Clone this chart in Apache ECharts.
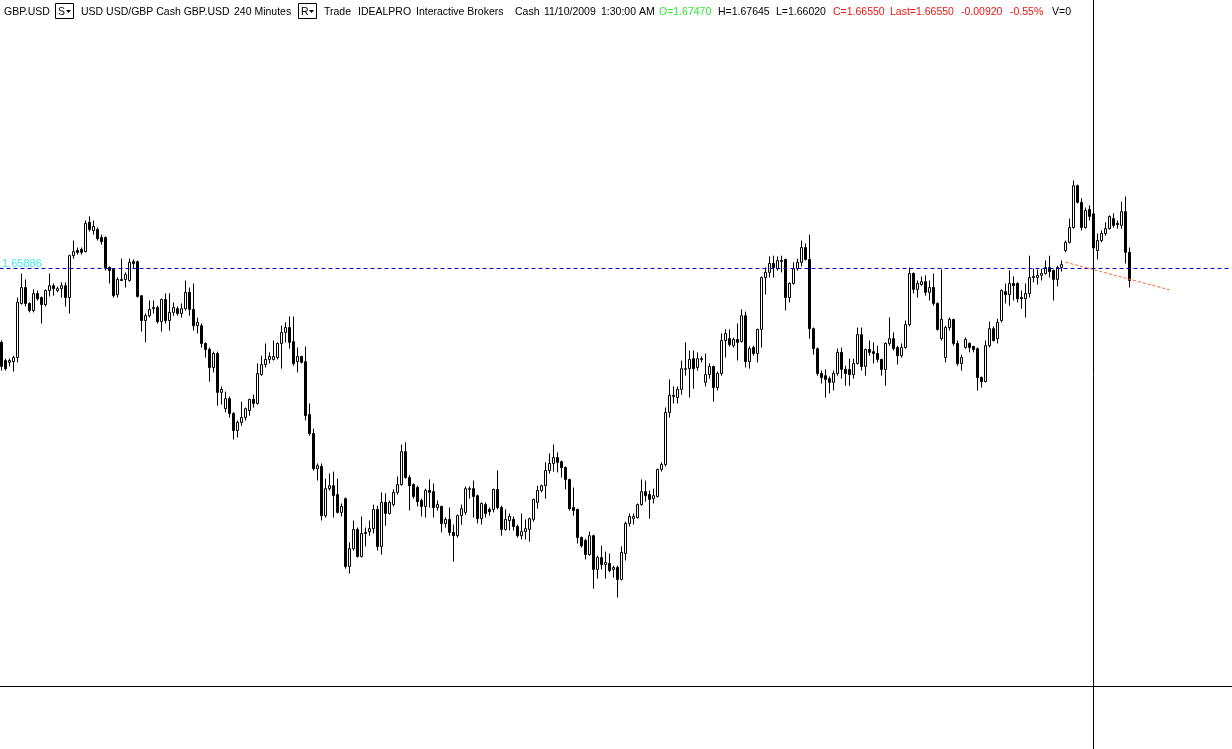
<!DOCTYPE html>
<html>
<head>
<meta charset="utf-8">
<script src="https://cdn.jsdelivr.net/npm/echarts/dist/echarts.min.js"></script>
<style>html,body{margin:0;padding:0;background:#fff;overflow:hidden}#chart{width:1232px;height:749px}</style>
</head>
<body>
<div id="chart"></div>
<script>
// GBP.USD 240-minute bars
const opens = [
1.6400,1.6351,1.6346,1.6348,1.6359,1.6505,1.6548,1.6505,1.6486,1.6532,
1.6521,1.6502,1.6540,1.6553,1.6540,1.6545,1.6553,1.6521,1.6634,1.6648,
1.6651,1.6645,1.6724,1.6702,1.6705,1.6683,1.6683,1.6602,1.6597,1.6529,
1.6567,1.6570,1.6567,1.6618,1.6618,1.6526,1.6459,1.6472,1.6491,1.6494,
1.6456,1.6516,1.6459,1.6481,1.6491,1.6478,1.6491,1.6535,1.6489,1.6445,
1.6445,1.6397,1.6381,1.6332,1.6370,1.6265,1.6221,1.6248,1.6208,1.6162,
1.6184,1.6197,1.6216,1.6246,1.6235,1.6313,1.6340,1.6354,1.6354,1.6359,
1.6397,1.6427,1.6440,1.6402,1.6348,1.6362,1.6348,1.6205,1.6154,1.6059,
1.6065,1.5932,1.6005,1.6013,1.5989,1.5941,1.5978,1.5795,1.5843,1.5895,
1.5822,1.5884,1.5889,1.5897,1.5949,1.5849,1.5968,1.5938,1.5962,1.5995,
1.6016,1.6105,1.6035,1.6016,1.6008,1.5973,1.5957,1.6000,1.5997,1.5954,
1.5957,1.5911,1.5922,1.5887,1.5878,1.5932,1.5941,1.6003,1.6005,1.5986,
1.5924,1.5962,1.5949,1.5949,1.6003,1.5954,1.5895,1.5919,1.5922,1.5903,
1.5878,1.5889,1.5895,1.5922,1.5968,1.6000,1.6013,1.6054,1.6073,1.6089,
1.6078,1.6062,1.6030,1.5954,1.5949,1.5873,1.5865,1.5827,1.5878,1.5787,
1.5819,1.5800,1.5803,1.5787,1.5792,1.5760,1.5830,1.5911,1.5924,1.5927,
1.5962,1.5997,1.5989,1.5978,1.5984,1.6057,1.6070,1.6211,1.6254,1.6251,
1.6273,1.6327,1.6329,1.6356,1.6332,1.6356,1.6292,1.6313,1.6335,1.6278,
1.6316,1.6405,1.6410,1.6391,1.6408,1.6402,1.6472,1.6348,1.6386,1.6370,
1.6435,1.6575,1.6589,1.6613,1.6599,1.6618,1.6624,1.6521,1.6559,1.6599,
1.6616,1.6656,1.6624,1.6437,1.6383,1.6316,1.6310,1.6302,1.6292,1.6316,
1.6373,1.6327,1.6327,1.6313,1.6343,1.6421,1.6335,1.6381,1.6375,1.6370,
1.6354,1.6327,1.6397,1.6410,1.6386,1.6364,1.6386,1.6448,1.6586,1.6543,
1.6556,1.6564,1.6535,1.6548,1.6505,1.6410,1.6359,1.6440,1.6462,1.6397,
1.6343,1.6386,1.6397,1.6389,1.6383,1.6305,1.6294,1.6391,1.6437,1.6410,
1.6459,1.6537,1.6529,1.6559,1.6559,1.6521,1.6518,1.6532,1.6575,1.6575,
1.6581,1.6586,1.6602,1.6594,1.6570,1.6602,1.6648,1.6670,1.6710,1.6823,
1.6778,1.6710,1.6759,1.6747,1.6648,1.6675,1.6694,1.6707,1.6734,1.6721,
1.6716,1.6753,1.6643
];
const closes = [
1.6335,1.6329,1.6351,1.6359,1.6508,1.6548,1.6505,1.6486,1.6532,1.6518,
1.6502,1.6540,1.6553,1.6545,1.6545,1.6553,1.6521,1.6634,1.6645,1.6643,
1.6643,1.6721,1.6705,1.6713,1.6680,1.6672,1.6602,1.6594,1.6526,1.6570,
1.6570,1.6583,1.6616,1.6613,1.6524,1.6459,1.6472,1.6489,1.6494,1.6456,
1.6516,1.6459,1.6481,1.6494,1.6478,1.6491,1.6535,1.6489,1.6445,1.6454,
1.6397,1.6381,1.6332,1.6370,1.6265,1.6273,1.6248,1.6208,1.6162,1.6184,
1.6197,1.6221,1.6246,1.6235,1.6316,1.6340,1.6354,1.6362,1.6362,1.6397,
1.6427,1.6440,1.6400,1.6343,1.6362,1.6346,1.6202,1.6154,1.6059,1.6067,
1.5932,1.6005,1.6013,1.5986,1.5941,1.5957,1.5795,1.5843,1.5895,1.5822,
1.5884,1.5887,1.5897,1.5949,1.5849,1.5968,1.5938,1.5968,1.5995,1.6016,
1.6105,1.6035,1.6013,1.5984,1.5970,1.5957,1.6000,1.5995,1.5954,1.5962,
1.5911,1.5922,1.5887,1.5878,1.5932,1.5951,1.6005,1.6005,1.5984,1.5924,
1.5965,1.5938,1.5943,1.6003,1.5954,1.5895,1.5922,1.5930,1.5903,1.5878,
1.5889,1.5897,1.5924,1.5976,1.6000,1.6013,1.6054,1.6073,1.6089,1.6076,
1.6062,1.6030,1.5951,1.5946,1.5873,1.5851,1.5827,1.5878,1.5787,1.5819,
1.5800,1.5806,1.5784,1.5792,1.5760,1.5833,1.5911,1.5930,1.5930,1.5962,
1.5997,1.5986,1.5976,1.5986,1.6057,1.6070,1.6211,1.6257,1.6257,1.6273,
1.6329,1.6329,1.6354,1.6329,1.6356,1.6354,1.6313,1.6335,1.6278,1.6316,
1.6405,1.6424,1.6394,1.6408,1.6400,1.6472,1.6348,1.6383,1.6370,1.6435,
1.6575,1.6589,1.6613,1.6602,1.6621,1.6621,1.6521,1.6559,1.6599,1.6616,
1.6656,1.6624,1.6437,1.6383,1.6316,1.6305,1.6300,1.6292,1.6316,1.6373,
1.6327,1.6316,1.6313,1.6343,1.6421,1.6335,1.6381,1.6373,1.6370,1.6354,
1.6327,1.6397,1.6410,1.6383,1.6364,1.6386,1.6448,1.6586,1.6543,1.6559,
1.6564,1.6535,1.6548,1.6505,1.6435,1.6462,1.6440,1.6462,1.6397,1.6343,
1.6359,1.6408,1.6386,1.6381,1.6305,1.6294,1.6391,1.6437,1.6405,1.6454,
1.6540,1.6529,1.6559,1.6553,1.6518,1.6518,1.6532,1.6575,1.6578,1.6581,
1.6586,1.6602,1.6591,1.6570,1.6602,1.6610,1.6670,1.6710,1.6823,1.6778,
1.6710,1.6756,1.6740,1.6655,1.6675,1.6694,1.6707,1.6740,1.6716,1.6718,
1.6753,1.6643,1.6567
];
const lows = [
1.6324,1.6324,1.6335,1.6321,1.6346,1.6502,1.6497,1.6481,1.6481,1.6513,
1.6451,1.6497,1.6524,1.6526,1.6535,1.6521,1.6497,1.6478,1.6626,1.6637,
1.6637,1.6643,1.6699,1.6691,1.6675,1.6664,1.6594,1.6559,1.6521,1.6521,
1.6567,1.6548,1.6564,1.6599,1.6521,1.6429,1.6400,1.6467,1.6478,1.6451,
1.6429,1.6451,1.6432,1.6472,1.6472,1.6467,1.6486,1.6472,1.6432,1.6424,
1.6386,1.6359,1.6294,1.6319,1.6229,1.6232,1.6211,1.6197,1.6138,1.6143,
1.6175,1.6189,1.6202,1.6224,1.6232,1.6310,1.6332,1.6343,1.6351,1.6354,
1.6329,1.6400,1.6383,1.6337,1.6319,1.6343,1.6189,1.6148,1.6054,1.6027,
1.5919,1.5927,1.6000,1.5927,1.5938,1.5930,1.5789,1.5776,1.5838,1.5819,
1.5819,1.5849,1.5878,1.5884,1.5838,1.5827,1.5905,1.5935,1.5957,1.5989,
1.6013,1.6032,1.5946,1.5978,1.5957,1.5930,1.5927,1.5954,1.5927,1.5946,
1.5887,1.5900,1.5878,1.5808,1.5873,1.5908,1.5935,1.5978,1.5927,1.5911,
1.5908,1.5927,1.5932,1.5941,1.5949,1.5878,1.5892,1.5892,1.5892,1.5873,
1.5868,1.5868,1.5862,1.5916,1.5951,1.5995,1.5978,1.6046,1.6051,1.6049,
1.6035,1.6003,1.5946,1.5932,1.5857,1.5846,1.5814,1.5824,1.5735,1.5762,
1.5787,1.5762,1.5779,1.5765,1.5711,1.5757,1.5811,1.5903,1.5908,1.5924,
1.5959,1.5970,1.5924,1.5965,1.5981,1.6051,1.6065,1.6197,1.6235,1.6235,
1.6259,1.6310,1.6251,1.6275,1.6324,1.6346,1.6281,1.6302,1.6240,1.6270,
1.6310,1.6359,1.6389,1.6386,1.6351,1.6400,1.6332,1.6329,1.6364,1.6346,
1.6386,1.6529,1.6575,1.6575,1.6594,1.6589,1.6486,1.6508,1.6556,1.6594,
1.6605,1.6621,1.6410,1.6367,1.6310,1.6289,1.6251,1.6262,1.6270,1.6310,
1.6302,1.6283,1.6283,1.6302,1.6340,1.6324,1.6310,1.6364,1.6343,1.6346,
1.6310,1.6283,1.6391,1.6378,1.6340,1.6359,1.6383,1.6443,1.6532,1.6521,
1.6553,1.6526,1.6513,1.6499,1.6432,1.6405,1.6346,1.6432,1.6391,1.6337,
1.6324,1.6383,1.6373,1.6373,1.6270,1.6278,1.6292,1.6386,1.6402,1.6397,
1.6454,1.6505,1.6499,1.6513,1.6508,1.6491,1.6467,1.6521,1.6562,1.6556,
1.6567,1.6583,1.6575,1.6513,1.6551,1.6591,1.6643,1.6667,1.6707,1.6775,
1.6702,1.6707,1.6729,1.6602,1.6624,1.6670,1.6688,1.6705,1.6710,1.6707,
1.6707,1.6613,1.6548
];
const highs = [
1.6405,1.6356,1.6356,1.6364,1.6521,1.6586,1.6570,1.6508,1.6543,1.6540,
1.6524,1.6543,1.6586,1.6559,1.6551,1.6562,1.6562,1.6637,1.6675,1.6656,
1.6656,1.6729,1.6740,1.6729,1.6710,1.6691,1.6686,1.6605,1.6599,1.6575,
1.6626,1.6589,1.6626,1.6624,1.6621,1.6526,1.6478,1.6513,1.6513,1.6499,
1.6518,1.6532,1.6532,1.6508,1.6497,1.6505,1.6567,1.6548,1.6559,1.6467,
1.6451,1.6400,1.6386,1.6375,1.6375,1.6281,1.6267,1.6254,1.6211,1.6189,
1.6240,1.6224,1.6248,1.6259,1.6343,1.6364,1.6397,1.6373,1.6405,1.6400,
1.6445,1.6454,1.6470,1.6470,1.6386,1.6364,1.6389,1.6235,1.6167,1.6073,
1.6073,1.6032,1.6046,1.6051,1.6032,1.5965,1.5981,1.5860,1.5919,1.5900,
1.5930,1.5900,1.5919,1.5962,1.5959,1.5995,1.5992,1.5973,1.6003,1.6038,
1.6124,1.6130,1.6041,1.6019,1.6013,1.5978,1.6005,1.6030,1.6019,1.5973,
1.5959,1.5927,1.5954,1.5908,1.5935,1.5962,1.6011,1.6011,1.6027,1.5989,
1.5968,1.5968,1.5954,1.6005,1.6054,1.5959,1.5949,1.5938,1.5930,1.5908,
1.5938,1.5922,1.5927,1.5978,1.6013,1.6016,1.6076,1.6100,1.6124,1.6103,
1.6081,1.6065,1.6032,1.6008,1.5951,1.5876,1.5870,1.5889,1.5881,1.5824,
1.5851,1.5835,1.5830,1.5797,1.5797,1.5849,1.5916,1.5938,1.5938,1.5965,
1.6030,1.6027,1.6000,1.6005,1.6059,1.6076,1.6224,1.6300,1.6281,1.6281,
1.6351,1.6400,1.6378,1.6378,1.6373,1.6362,1.6370,1.6343,1.6337,1.6321,
1.6424,1.6435,1.6435,1.6413,1.6451,1.6489,1.6483,1.6389,1.6391,1.6437,
1.6578,1.6602,1.6632,1.6634,1.6632,1.6634,1.6626,1.6562,1.6616,1.6626,
1.6675,1.6667,1.6691,1.6440,1.6386,1.6324,1.6327,1.6308,1.6324,1.6383,
1.6386,1.6337,1.6356,1.6356,1.6440,1.6440,1.6383,1.6405,1.6400,1.6391,
1.6356,1.6400,1.6467,1.6427,1.6391,1.6397,1.6459,1.6602,1.6589,1.6567,
1.6578,1.6581,1.6567,1.6586,1.6508,1.6597,1.6445,1.6467,1.6464,1.6405,
1.6367,1.6413,1.6400,1.6391,1.6386,1.6308,1.6405,1.6456,1.6443,1.6464,
1.6543,1.6559,1.6594,1.6578,1.6562,1.6540,1.6559,1.6634,1.6599,1.6597,
1.6599,1.6621,1.6634,1.6597,1.6607,1.6621,1.6675,1.6734,1.6837,1.6826,
1.6789,1.6764,1.6770,1.67645,1.6694,1.6702,1.6724,1.6743,1.6748,1.6729,
1.6780,1.6794,1.6656
];
const slotCount = 308;            // bar slots across the window (incl. empty space on the right)
const refLevel = 1.65886;         // horizontal reference line
const trendStart = [266, 1.66164];
const trendEnd = [292, 1.65419];
const priceMin = 1.54722, priceMax = 1.73244;

const headerParts = [
  {t: 'GBP.USD', x: 4, c: '#000'},
  {t: 'USD USD/GBP Cash GBP.USD', x: 81, c: '#000'},
  {t: '240 Minutes', x: 234, c: '#000'},
  {t: 'Trade', x: 324, c: '#000'},
  {t: 'IDEALPRO', x: 358, c: '#000'},
  {t: 'Interactive Brokers', x: 416, c: '#000'},
  {t: 'Cash', x: 515, c: '#000'},
  {t: '11/10/2009', x: 544, c: '#000'},
  {t: '1:30:00 AM', x: 601, c: '#000'},
  {t: 'O=1.67470', x: 659, c: '#2ee82e'},
  {t: 'H=1.67645', x: 718, c: '#000'},
  {t: 'L=1.66020', x: 776, c: '#000'},
  {t: 'C=1.66550', x: 833, c: '#f01414'},
  {t: 'Last=1.66550', x: 890, c: '#f01414'},
  {t: '-0.00920', x: 961, c: '#f01414'},
  {t: '-0.55%', x: 1010, c: '#f01414'},
  {t: 'V=0', x: 1052, c: '#000'}
];
const headerBoxes = [{label: 'S', x: 55}, {label: 'R', x: 298}];

const categories = Array.from({length: slotCount}, (_, i) => String(i));
const candles = opens.map((o, i) => [o, closes[i], lows[i], highs[i]]);

const FONT = '10.5px "Liberation Sans", Arial, sans-serif';
const graphics = [];
headerParts.forEach(p => graphics.push({
  type: 'text', x: p.x, y: 12, silent: true,
  style: {text: p.t, fill: p.c, font: FONT, textVerticalAlign: 'middle'}
}));
headerBoxes.forEach(b => {
  graphics.push({type: 'rect', shape: {x: b.x + 0.5, y: 3.5, width: 18, height: 15},
    style: {fill: '#fff', stroke: '#000', lineWidth: 1}, silent: true});
  graphics.push({type: 'text', x: b.x + 3, y: 12, silent: true,
    style: {text: b.label, fill: '#000', font: FONT, textVerticalAlign: 'middle'}});
  graphics.push({type: 'polygon', silent: true,
    shape: {points: [[b.x + 11, 10], [b.x + 16, 10], [b.x + 13.5, 13]]}, style: {fill: '#000'}});
});
graphics.push({type: 'text', x: 2, y: 264, silent: true,
  style: {text: refLevel.toFixed(5), fill: '#3fe6f2', font: '11px "Liberation Sans", Arial, sans-serif', textVerticalAlign: 'middle'}});
graphics.push({type: 'line', silent: true, shape: {x1: 1093.5, y1: 0, x2: 1093.5, y2: 749},
  style: {stroke: '#000', lineWidth: 1}, z: 100});
graphics.push({type: 'line', silent: true, shape: {x1: 0, y1: 686.5, x2: 1232, y2: 686.5},
  style: {stroke: '#000', lineWidth: 1}, z: 100});

const chart = echarts.init(document.getElementById('chart'), null, {renderer: 'canvas'});
chart.setOption({
  animation: false,
  backgroundColor: '#fff',
  grid: {left: -0.5, right: 0.5, top: 0, bottom: 63, containLabel: false, outerBoundsMode: 'none'},
  xAxis: {
    type: 'category', data: categories, boundaryGap: true,
    axisLine: {show: false}, axisTick: {show: false}, axisLabel: {show: false}, splitLine: {show: false}
  },
  yAxis: {
    type: 'value', min: priceMin, max: priceMax, scale: true,
    axisLine: {show: false}, axisTick: {show: false}, axisLabel: {show: false}, splitLine: {show: false}
  },
  series: [{
    type: 'candlestick',
    data: candles,
    barWidth: 2,
    itemStyle: {color: '#fff', color0: '#000', borderColor: '#000', borderColor0: '#000', borderWidth: 1},
    emphasis: {disabled: true},
    markLine: {
      silent: true, symbol: 'none', animation: false,
      label: {show: false},
      data: [
        {yAxis: refLevel, lineStyle: {color: '#0000c8', type: [4, 3], width: 1}},
        [{coord: trendStart, lineStyle: {color: '#ff6a2a', type: [3, 2], width: 1}}, {coord: trendEnd}]
      ]
    }
  }],
  graphic: graphics
});
</script>
</body>
</html>
